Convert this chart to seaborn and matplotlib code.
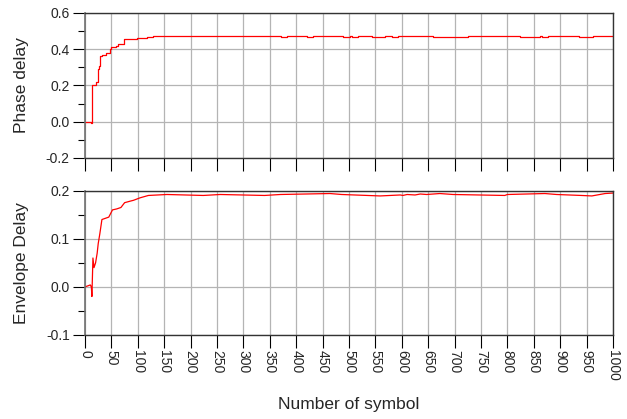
import numpy as np
import pandas as pd
import matplotlib
matplotlib.use('Agg')
import matplotlib.pyplot as plt
import seaborn as sns
from matplotlib.ticker import MultipleLocator

# Data (knots of the traces)
phase_x = [0, 11, 13, 14, 20, 25, 27, 29, 33, 40, 47, 50, 58, 63, 73, 98, 117, 129,
           372, 382, 420, 432, 489, 502, 505, 517, 543, 568, 581, 593,
           659, 725, 824, 862, 866, 877, 935, 962, 1000]
phase_y = [0.0, -0.005, 0.12, 0.2, 0.22, 0.29, 0.31, 0.36, 0.37, 0.38, 0.40, 0.41, 0.42,
           0.43, 0.455, 0.46, 0.465, 0.471,
           0.466, 0.471, 0.466, 0.471, 0.466, 0.471, 0.466, 0.471, 0.466, 0.471, 0.466, 0.471,
           0.466, 0.471, 0.466, 0.471, 0.466, 0.471, 0.466, 0.471, 0.471]

env_x = [0, 10, 12, 13, 15, 17, 20, 23, 25, 28, 32, 45, 52, 60, 68, 75, 85, 92, 104, 120,
         155, 224, 256, 340, 370, 464, 486, 559, 597, 602, 610, 625, 635, 647, 672, 697,
         795, 800, 871, 893, 940, 960, 975, 985, 1000]
env_y = [0.0, 0.004, 0.0, -0.02, 0.06, 0.04, 0.05, 0.07, 0.09, 0.11, 0.14, 0.145, 0.16,
         0.162, 0.165, 0.175, 0.178, 0.18, 0.185, 0.19,
         0.192, 0.19, 0.192, 0.19, 0.192, 0.194, 0.192, 0.189, 0.191, 0.19, 0.192, 0.191,
         0.193, 0.192, 0.194, 0.192, 0.19, 0.192, 0.194, 0.192, 0.19, 0.189, 0.192, 0.194, 0.195]

x_ticks = list(range(0, 1001, 50))

sns.set_theme(style='white')
plt.rcParams['font.family'] = ['Liberation Sans', 'DejaVu Sans']
plt.rcParams['axes.unicode_minus'] = False

fig = plt.figure(figsize=(6.27, 4.19), dpi=100)
ax1 = fig.add_axes([0.1356, 0.623, 0.8421, 0.346])
ax2 = fig.add_axes([0.1356, 0.2005, 0.8421, 0.3445])

df1 = pd.DataFrame({'x': phase_x, 'y': phase_y})
df2 = pd.DataFrame({'x': env_x, 'y': env_y})
sns.lineplot(data=df1, x='x', y='y', ax=ax1, color='red', lw=0.9, drawstyle='steps-post')
sns.lineplot(data=df2, x='x', y='y', ax=ax2, color='red', lw=0.9)

for ax, lo, hi, major, minor in [(ax1, -0.2, 0.6, 0.2, 0.1), (ax2, -0.1, 0.2, 0.1, 0.05)]:
    ax.set_xlim(0, 1000)
    ax.set_ylim(lo, hi)
    ax.set_xticks(x_ticks)
    ax.yaxis.set_major_locator(MultipleLocator(major))
    ax.yaxis.set_minor_locator(MultipleLocator(minor))
    ax.yaxis.set_major_formatter(matplotlib.ticker.FormatStrFormatter('%.1f'))
    ax.grid(True, which='major', color='#b4b4b4', lw=0.9)
    ax.tick_params(axis='both', which='major', direction='out', length=9, width=0.8,
                   color='black', labelsize=10, pad=2,
                   bottom=True, left=True)
    ax.tick_params(axis='y', which='minor', direction='out', length=5, width=0.8,
                   color='black', left=True)
    for side in ['top', 'right', 'bottom']:
        ax.spines[side].set_color('#333333')
        ax.spines[side].set_linewidth(1.0)
    ax.spines['left'].set_color('#707070')
    ax.spines['left'].set_linewidth(1.2)

ax1.set_xticklabels([])
ax1.set_xlabel('')
ax1.set_ylabel('Phase delay', fontsize=12.5)
ax1.yaxis.set_label_coords(-0.106, 0.5)
ax2.set_xticklabels([str(t) for t in x_ticks], rotation=-90)
ax2.set_xlabel('Number of symbol', fontsize=12.5, va='top')
ax2.xaxis.set_label_coords(0.5, -0.43)
ax2.set_ylabel('Envelope Delay', fontsize=12.5)
ax2.yaxis.set_label_coords(-0.106, 0.5)

fig.savefig('out.png', dpi=100)
